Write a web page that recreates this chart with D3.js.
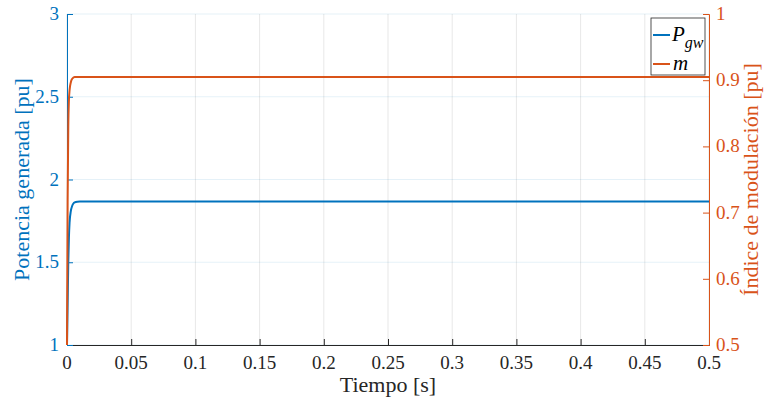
<!DOCTYPE html>
<html>
<head>
<meta charset="utf-8">
<script src="https://cdn.jsdelivr.net/npm/d3@7"></script>
</head>
<body style="margin:0">
<div id="chart"></div>
<script>
// time samples [s]
const time = [0, 0.0005, 0.001, 0.0015, 0.002, 0.003, 0.004, 0.005, 0.006, 0.008, 0.01, 0.05, 0.1, 0.2, 0.3, 0.4, 0.5];
// generated power [pu]
const pgw = [1, 1.25, 1.5, 1.65, 1.74, 1.81, 1.84, 1.855, 1.862, 1.866, 1.867, 1.867, 1.867, 1.867, 1.867, 1.867, 1.867];
// modulation index [pu]
const modIndex = [0.5, 0.72, 0.83, 0.87, 0.885, 0.897, 0.902, 0.904, 0.905, 0.905, 0.905, 0.905, 0.905, 0.905, 0.905, 0.905, 0.905];

const xTicks = [0, 0.05, 0.1, 0.15, 0.2, 0.25, 0.3, 0.35, 0.4, 0.45, 0.5];
const xTickLabels = ["0", "0.05", "0.1", "0.15", "0.2", "0.25", "0.3", "0.35", "0.4", "0.45", "0.5"];
const leftTicks = [1, 1.5, 2, 2.5, 3];
const rightTicks = [0.5, 0.6, 0.7, 0.8, 0.9, 1];

const blue = "#0072BD";
const orange = "#D95319";
const dark = "#262626";
const serif = "Liberation Serif";

const width = 764, height = 402;
const margin = { top: 14, right: 55, bottom: 57, left: 67 };
const x0 = margin.left, x1 = width - margin.right;
const y0 = height - margin.bottom, y1 = margin.top;

const x = d3.scaleLinear().domain([0, 0.5]).range([x0, x1]);
const yL = d3.scaleLinear().domain([1, 3]).range([y0, y1]);
const yR = d3.scaleLinear().domain([0.5, 1]).range([y0, y1]);

const svg = d3.select("#chart").append("svg")
  .attr("width", width)
  .attr("height", height);

// grid
svg.append("g")
  .selectAll("line")
  .data(xTicks)
  .enter().append("line")
  .attr("x1", d => x(d)).attr("x2", d => x(d))
  .attr("y1", y0).attr("y2", y1)
  .attr("stroke", "#000").attr("stroke-opacity", 0.12).attr("stroke-width", 0.8);

svg.append("g")
  .selectAll("line")
  .data(leftTicks)
  .enter().append("line")
  .attr("x1", x0).attr("x2", x1)
  .attr("y1", d => yL(d)).attr("y2", d => yL(d))
  .attr("stroke", blue).attr("stroke-opacity", 0.13).attr("stroke-width", 0.8);

// axes: d3 axes for lines/ticks, labels drawn as own text nodes
const xAxis = svg.append("g")
  .attr("transform", `translate(0,${y0})`)
  .call(d3.axisBottom(x).tickValues(xTicks).tickSize(-6).tickFormat(""));
xAxis.selectAll("line, path").attr("stroke", dark);

const leftAxis = svg.append("g")
  .attr("transform", `translate(${x0},0)`)
  .call(d3.axisLeft(yL).tickValues(leftTicks).tickSize(-6).tickFormat(""));
leftAxis.selectAll("line, path").attr("stroke", blue);

const rightAxis = svg.append("g")
  .attr("transform", `translate(${x1},0)`)
  .call(d3.axisRight(yR).tickValues(rightTicks).tickSize(-6).tickFormat(""));
rightAxis.selectAll("line, path").attr("stroke", orange);
svg.selectAll(".domain").attr("stroke-width", 1);
svg.selectAll(".tick text").remove();

svg.selectAll(".xlab")
  .data(xTicks)
  .enter().append("text")
  .attr("font-family", serif)
  .attr("font-size", 19)
  .attr("x", d => x(d)).attr("y", y0 + 24)
  .attr("text-anchor", "middle").attr("fill", dark)
  .text((d, i) => xTickLabels[i]);

svg.selectAll(".ylabL")
  .data(leftTicks)
  .enter().append("text")
  .attr("font-family", serif)
  .attr("font-size", 19)
  .attr("x", x0 - 8).attr("y", d => yL(d) + 6)
  .attr("text-anchor", "end").attr("fill", blue)
  .text(d => d3.format("")(d));

svg.selectAll(".ylabR")
  .data(rightTicks)
  .enter().append("text")
  .attr("font-family", serif)
  .attr("font-size", 19)
  .attr("x", x1 + 7).attr("y", d => yR(d) + 6)
  .attr("fill", orange)
  .text(d => d3.format("")(d));

// lines
const linePgw = d3.line().x((d, i) => x(time[i])).y(d => yL(d)).curve(d3.curveMonotoneX);
const lineM = d3.line().x((d, i) => x(time[i])).y(d => yR(d)).curve(d3.curveMonotoneX);

svg.append("path").datum(pgw)
  .attr("d", linePgw).attr("fill", "none").attr("stroke", blue).attr("stroke-width", 2);
svg.append("path").datum(modIndex)
  .attr("d", lineM).attr("fill", "none").attr("stroke", orange).attr("stroke-width", 2);

// axis titles
svg.append("text")
  .attr("font-family", serif).attr("font-size", 22)
  .attr("x", (x0 + x1) / 2).attr("y", 392)
  .attr("text-anchor", "middle").attr("fill", dark)
  .text("Tiempo [s]");

svg.append("text")
  .attr("font-family", serif).attr("font-size", 22)
  .attr("transform", `translate(29,${(y0 + y1) / 2}) rotate(-90)`)
  .attr("text-anchor", "middle").attr("fill", blue)
  .text("Potencia generada [pu]");

svg.append("text")
  .attr("font-family", serif).attr("font-size", 22)
  .attr("transform", `translate(758,${(y0 + y1) / 2}) rotate(-90)`)
  .attr("text-anchor", "middle").attr("fill", orange)
  .text("Índice de modulación [pu]");

// legend
const lg = svg.append("g").attr("transform", "translate(651,18)");
lg.append("rect").attr("width", 54).attr("height", 57)
  .attr("fill", "#fff").attr("stroke", dark).attr("stroke-width", 0.8);
lg.append("line").attr("x1", 2).attr("x2", 19).attr("y1", 17).attr("y2", 17)
  .attr("stroke", blue).attr("stroke-width", 2);
const t1 = lg.append("text")
  .attr("font-family", serif).attr("font-size", 21)
  .attr("x", 21).attr("y", 23)
  .attr("font-style", "italic").attr("fill", "#000");
t1.append("tspan").text("P");
t1.append("tspan").attr("dy", 7).attr("font-size", 16).text("gw");
lg.append("line").attr("x1", 2).attr("x2", 19).attr("y1", 46).attr("y2", 46)
  .attr("stroke", orange).attr("stroke-width", 2);
lg.append("text")
  .attr("font-family", serif).attr("font-size", 21)
  .attr("x", 22).attr("y", 52)
  .attr("font-style", "italic").attr("fill", "#000").text("m");
</script>
</body>
</html>
